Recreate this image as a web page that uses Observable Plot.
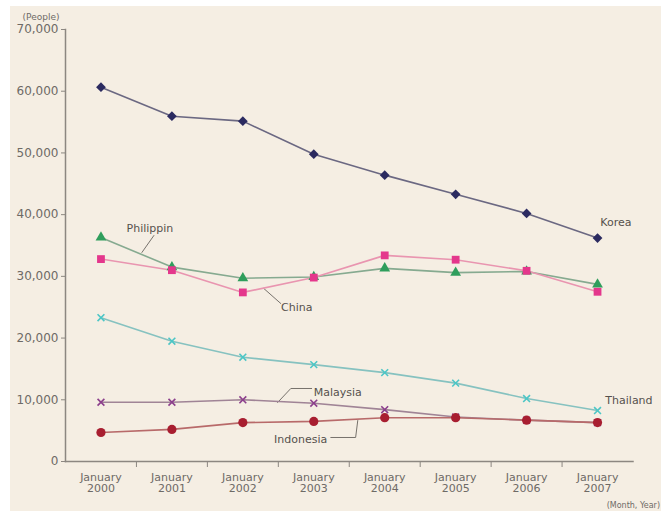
<!DOCTYPE html>
<html>
<head>
<meta charset="utf-8">
<script src="https://cdn.jsdelivr.net/npm/d3@7"></script>
<script src="https://cdn.jsdelivr.net/npm/@observablehq/plot@0.6"></script>
<style>
  html, body { margin: 0; padding: 0; background: #ffffff; }
  #wrap { position: relative; width: 661px; height: 511px; overflow: hidden; }
  #bg { position: absolute; left: 10px; top: 6px; right: 0; bottom: 0; background: #f5eee3; }
  #chart { position: absolute; left: 0; top: 0; }
  #chart svg { background: transparent; }
</style>
</head>
<body>
<div id="wrap"><div id="bg"></div><div id="chart"></div></div>
<script>
// ---- data ----
const years = [2000, 2001, 2002, 2003, 2004, 2005, 2006, 2007];
const korea     = [60650, 55950, 55150, 49800, 46400, 43300, 40200, 36200];
const philippin = [36300, 31500, 29700, 29900, 31300, 30600, 30800, 28700];
const china     = [32800, 31000, 27400, 29800, 33400, 32700, 30900, 27500];
const thailand  = [23300, 19500, 16900, 15700, 14400, 12700, 10200, 8250];
const malaysia  = [9600, 9600, 10000, 9450, 8400, 7200, 6700, 6300];
const indonesia = [4700, 5200, 6300, 6500, 7100, 7100, 6700, 6300];
const yTicks = [0, 10000, 20000, 30000, 40000, 50000, 60000, 70000];

const seriesNames = ["Korea", "Philippin", "China", "Thailand", "Malaysia", "Indonesia"];
const seriesValues = [korea, philippin, china, thailand, malaysia, indonesia];
const lineColors   = ["#6b6882", "#86aa90", "#e995b0", "#86c2c0", "#a08496", "#b86a6a"];
const markColors   = ["#2b2a60", "#2f9e5c", "#e4378c", "#4cc6c6", "#8c3f8c", "#a81e30"];
const markSymbols  = ["diamond2", "triangle", "square", "times", "times", "circle"];
const markRadius   = [4.4, 4.0, 4.4, 3.2, 3.2, 4.6];

// annotation label anchors (in data units: year, people)
const labelTexts  = ["Korea", "Thailand", "Philippin", "China", "Malaysia", "Indonesia"];
const labelYears  = [2007.04, 2007.11, 2000.69, 2002.76, 2003.0, 2003.19];
const labelValues = [38700, 9900, 37750, 24950, 11150, 3560];
const labelAnchor = ["start", "start", "middle", "middle", "start", "end"];
// leader lines: [year, value] vertices
const leaders = [
  [[2000.746, 36620], [2000.577, 33870]],
  [[2002.535, 25600], [2002.296, 28030]],
  [[2002.97, 11830], [2002.676, 11830], [2002.49, 9560]],
  [[2003.24, 3890], [2003.59, 3890], [2003.62, 6640]]
];

// ---- build tables ----
const rows = [];
seriesNames.forEach((name, i) => {
  years.forEach((yr, j) => rows.push({series: name, year: yr, value: seriesValues[i][j], idx: i}));
});
const labels = labelTexts.map((t, i) => ({text: t, year: labelYears[i], value: labelValues[i], anchor: labelAnchor[i]}));
const leaderRows = [];
leaders.forEach((pts, k) => pts.forEach(p => leaderRows.push({k, year: p[0], value: p[1]})));
const boundaries = years.slice(1).map(y => y - 0.5);

const font = "DejaVu Sans, Verdana, sans-serif";

const marks = [
  Plot.frame({anchor: "left", stroke: "#8c8781", strokeWidth: 1.5}),
  Plot.frame({anchor: "bottom", stroke: "#8c8781", strokeWidth: 1.5}),
  Plot.axisY({ticks: yTicks, tickFormat: d3.format(","), tickSize: 4, tickPadding: 3,
              fontSize: 12, fill: "#6e6a66", stroke: "#8c8781", label: null}),
  Plot.axisX({ticks: years, tickFormat: d => `January\n${d}`, tickSize: 0, tickPadding: 11,
              fontSize: 11, fill: "#6e6a66", label: null, lineHeight: 1.05}),
  Plot.axisX({ticks: boundaries, tickFormat: () => "", tickSize: 6, stroke: "#8c8781", label: null}),
  Plot.line(leaderRows, {x: "year", y: "value", z: "k", stroke: "#77726c", strokeWidth: 1})
];
seriesNames.forEach((name, i) => {
  const data = rows.filter(r => r.idx === i);
  marks.push(Plot.line(data, {x: "year", y: "value", stroke: lineColors[i], strokeWidth: 1.6}));
});
seriesNames.forEach((name, i) => {
  const data = rows.filter(r => r.idx === i);
  const sym = markSymbols[i];
  if (sym === "times") {
    marks.push(Plot.dot(data, {x: "year", y: "value", symbol: sym, r: markRadius[i], stroke: markColors[i], strokeWidth: 1.6}));
  } else {
    marks.push(Plot.dot(data, {x: "year", y: "value", symbol: sym, r: markRadius[i], fill: markColors[i], stroke: "none"}));
  }
});
["start", "middle", "end"].forEach(a => {
  marks.push(Plot.text(labels.filter(l => l.anchor === a), {x: "year", y: "value", text: "text", textAnchor: a,
    fontSize: 11, fill: "#55514d", fontFamily: font}));
});

const chart = Plot.plot({
  width: 661,
  height: 511,
  marginTop: 29,
  marginBottom: 50,
  marginLeft: 65,
  marginRight: 28.5,
  style: {fontFamily: font, background: "transparent", overflow: "visible"},
  x: {type: "linear", domain: [d3.min(years) - 0.5, d3.max(years) + 0.5]},
  y: {domain: [0, 70000]},
  marks
});

// unit labels
const svg = d3.select(chart);
svg.append("text").attr("x", 41).attr("y", 20).attr("text-anchor", "middle")
  .attr("font-size", 9).attr("fill", "#6e6a66").attr("font-family", font).text("(People)");
svg.append("text").attr("x", 660).attr("y", 508).attr("text-anchor", "end")
  .attr("font-size", 8).attr("fill", "#6e6a66").attr("font-family", font).text("(Month, Year)");

document.getElementById("chart").appendChild(chart);
</script>
</body>
</html>
